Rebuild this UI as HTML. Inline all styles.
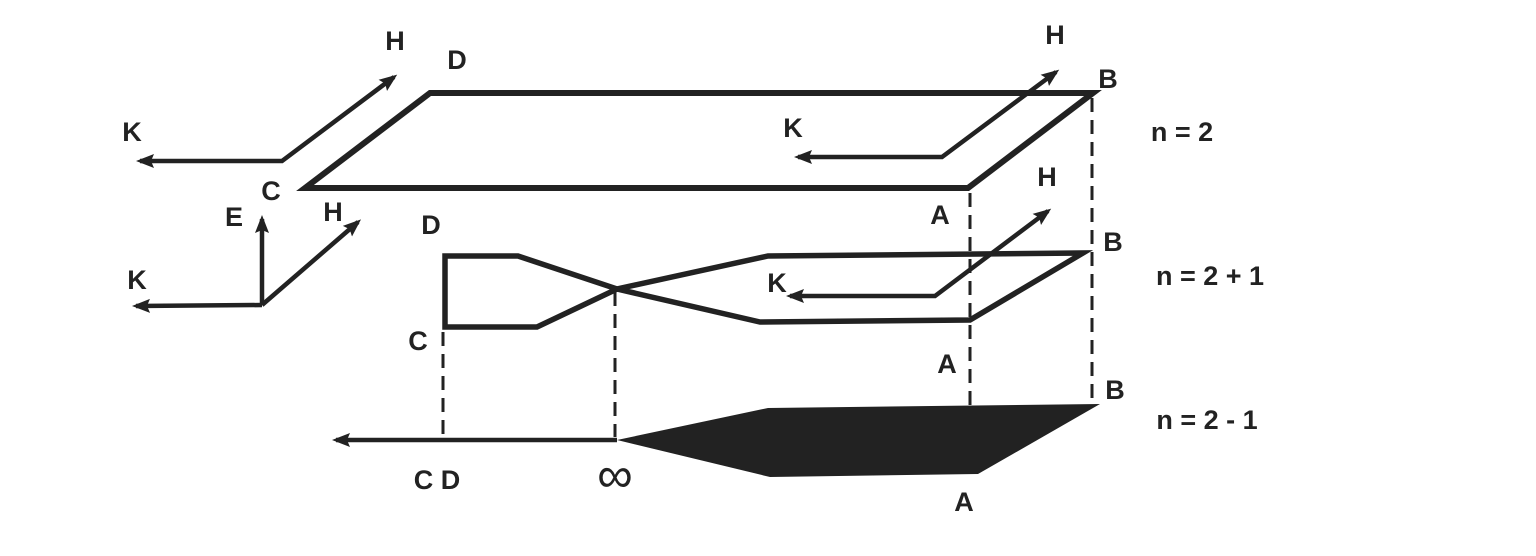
<!DOCTYPE html>
<html><head><style>
html,body{margin:0;padding:0;background:#fff;}
svg text{font-family:"Liberation Sans Narrow","Liberation Sans",sans-serif;font-weight:bold;font-size:27px;fill:#222;text-anchor:middle;}
</style></head><body>
<svg width="1536" height="551" viewBox="0 0 1536 551" xmlns="http://www.w3.org/2000/svg">
<defs>
<marker id="ah" markerWidth="18" markerHeight="16" refX="14" refY="8" orient="auto-start-reverse" markerUnits="userSpaceOnUse">
<path d="M0,1 L18,8 L0,15 L3,8 Z" fill="#222"/>
</marker>
</defs>
<g stroke="#222" fill="none" stroke-width="6" stroke-linejoin="miter">
<polygon points="305,188 430,93 1093,93 968,188"/>
<path d="M445,256 L518,256 L617,289 L760,322 L970,320 L1083,253 L768,256 L617,289 L537,327 L445,327 Z" stroke-width="5.5"/>
</g>
<g stroke="#222" fill="none" stroke-width="4.5">
<path d="M140,161 L282,161 L394,77" marker-start="url(#ah)" marker-end="url(#ah)"/>
<path d="M798,157 L942,157 L1056,72" marker-start="url(#ah)" marker-end="url(#ah)"/>
<path d="M790,296 L935,296 L1048,211" marker-start="url(#ah)" marker-end="url(#ah)"/>
<path d="M262,305 L262,219" marker-end="url(#ah)"/>
<path d="M262,305 L136,306" marker-end="url(#ah)"/>
<path d="M262,305 L358,222" marker-end="url(#ah)"/>
<path d="M617,440 L336,440" marker-end="url(#ah)"/>
</g>
<polygon points="617,440 768,408 1100,404 978,474 770,477" fill="#222"/>
<g stroke="#222" stroke-width="3" stroke-dasharray="14,8" fill="none">
<line x1="443" y1="332" x2="443" y2="434"/>
<line x1="615" y1="292" x2="615" y2="437"/>
<line x1="970" y1="193" x2="970" y2="405"/>
<line x1="1092" y1="98" x2="1092" y2="400"/>
</g>
<text x="395" y="50">H</text>
<text x="457" y="69">D</text>
<text x="132" y="141">K</text>
<text x="271" y="200">C</text>
<text x="234" y="226">E</text>
<text x="333" y="221">H</text>
<text x="137" y="289">K</text>
<text x="431" y="234">D</text>
<text x="418" y="350">C</text>
<text x="437" y="489">C D</text>
<text x="615" y="492" style="font-size:50px;font-weight:normal">∞</text>
<text x="1055" y="44">H</text>
<text x="1108" y="88">B</text>
<text x="793" y="137">K</text>
<text x="1182" y="141">n = 2</text>
<text x="940" y="224">A</text>
<text x="1047" y="186">H</text>
<text x="1113" y="251">B</text>
<text x="777" y="292">K</text>
<text x="1210" y="285">n = 2 + 1</text>
<text x="947" y="373">A</text>
<text x="1115" y="399">B</text>
<text x="1207" y="429">n = 2 - 1</text>
<text x="964" y="511">A</text>
</svg>
</body></html>
